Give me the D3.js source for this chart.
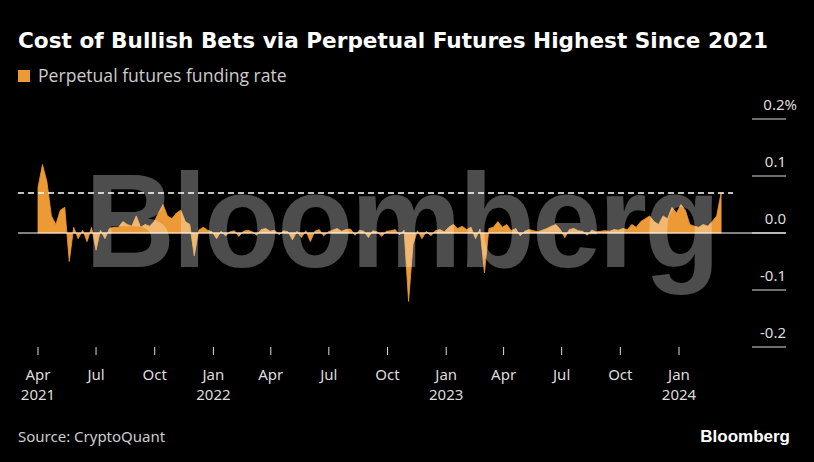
<!DOCTYPE html>
<html><head><meta charset="utf-8">
<script src="https://cdn.jsdelivr.net/npm/d3@7"></script>
<style>body{margin:0;background:#000}</style></head>
<body><svg id="c" width="814" height="462"></svg>
<script>
const startDate = "2021-04-01";
const stepDays = 7;
const values = [
0.08,0.12,0.09,0.03,
0.015,0.04,0.045,-0.05,0.01,
-0.01,0.005,-0.015,0.01,
-0.03,0.005,-0.01,0.008,0.01,
0.01,0.02,0.015,0.012,
0.03,0.01,0.015,0.012,
0.02,0.035,0.05,0.03,0.025,
0.035,0.04,0.02,0.015,
-0.04,0.005,0.01,0.005,0.002,
-0.01,0.003,-0.005,0.002,
0.004,-0.006,0.003,0.005,
0.002,-0.004,0.006,0.008,0.003,
0.005,-0.003,0.004,0.002,
-0.012,0.003,-0.008,0.004,
-0.015,0.003,0.006,-0.005,0.002,
0.005,0.008,0.003,0.006,
0.007,-0.004,0.005,0.003,
-0.008,0.004,0.002,-0.006,0.003,
0.004,0.006,-0.003,0.005,
-0.12,-0.02,0.004,-0.01,
0.003,-0.005,0.004,0.006,0.002,
0.01,0.015,0.008,0.012,
0.006,0.01,-0.01,0.007,
-0.07,0.008,0.01,0.02,0.01,
0.015,0.004,0.008,-0.005,
0.003,0.006,0.004,0.002,0.005,
0.008,0.012,0.015,0.006,
-0.008,0.006,0.008,0.004,
0.003,-0.004,0.005,0.002,0.003,
0.004,0.003,0.006,0.005,
0.008,0.006,0.015,0.01,
0.02,0.025,0.03,0.02,0.015,
0.03,0.025,0.045,0.035,
0.05,0.04,0.015,0.012,0.01,
0.015,0.012,0.02,0.03,
0.07];
const refLevel = 0.07;
const yTicks = [0.2,0.1,0,-0.1,-0.2];
const xTickDates = ["2021-04-01","2021-07-01","2021-10-01","2022-01-01","2022-04-01","2022-07-01","2022-10-01","2023-01-01","2023-04-01","2023-07-01","2023-10-01","2024-01-01"];
const monthLabels = ["Apr","Jul","Oct","Jan","Apr","Jul","Oct","Jan","Apr","Jul","Oct","Jan"];
const yearLabels = {"0":"2021","3":"2022","7":"2023","11":"2024"};

const p = d3.timeParse("%Y-%m-%d");
const t0 = p(startDate);
const data = values.map((v,i)=>({d:d3.timeDay.offset(t0,i*stepDays),v}));
const svg = d3.select("#c");
const x = d3.scaleTime().domain([p("2021-04-01"),p("2024-01-01")]).range([38,679]);
const y = d3.scaleLinear().domain([-0.2,0.2]).range([347,119]);
const orange = "#ec9a35";

svg.append("text").attr("x",18).attr("y",48).attr("fill","#fff").attr("font-family","DejaVu Sans, sans-serif").attr("font-weight","bold").attr("font-size",21.6).text("Cost of Bullish Bets via Perpetual Futures Highest Since 2021");
svg.append("rect").attr("x",18).attr("y",70).attr("width",12).attr("height",12).attr("fill",orange);
svg.append("text").attr("x",38).attr("y",82).attr("fill","#ccc").attr("font-family","Open Sans, sans-serif").attr("font-size",17.6).text("Perpetual futures funding rate");

yTicks.forEach(t=>{
  svg.append("line").attr("x1",752).attr("x2",786).attr("y1",y(t)).attr("y2",y(t)).attr("stroke","#ddd").attr("stroke-width",1);
  svg.append("text").attr("x",t===0.2?797:786).attr("y",y(t)-9).attr("text-anchor","end").attr("fill","#ddd").attr("font-family","Noto Sans, sans-serif").attr("font-size",15).text(t===0.2?"0.2%":d3.format(".1f")(t).replace("−","-"));
});

svg.append("path").datum(data).attr("fill",orange).attr("stroke",orange).attr("stroke-width",0.8)
  .attr("d",d3.area().x(d=>x(d.d)).y0(y(0)).y1(d=>y(d.v)));
svg.append("line").attr("x1",18).attr("x2",786).attr("y1",y(0)).attr("y2",y(0)).attr("stroke","#fff").attr("stroke-width",1.2);
svg.append("line").attr("x1",18).attr("x2",733).attr("y1",y(refLevel)).attr("y2",y(refLevel)).attr("stroke","#fff").attr("stroke-width",1.5).attr("stroke-dasharray","6,4");

svg.append("text").attr("transform","translate(85,267) scale(0.93,1)").attr("fill","#fff").attr("fill-opacity",0.3).attr("font-family","Liberation Sans, Arial").attr("font-weight","bold").attr("font-size",134).attr("letter-spacing",-3).text("Bloomberg");

xTickDates.forEach((s,i)=>{
  const xx = x(p(s));
  svg.append("line").attr("x1",xx).attr("x2",xx).attr("y1",347).attr("y2",355).attr("stroke","#ddd");
  svg.append("text").attr("x",xx).attr("y",380).attr("text-anchor","middle").attr("fill","#ddd").attr("font-family","Noto Sans, sans-serif").attr("font-size",15).text(monthLabels[i]);
  if(yearLabels[i]) svg.append("text").attr("x",xx).attr("y",400).attr("text-anchor","middle").attr("fill","#ddd").attr("font-family","Noto Sans, sans-serif").attr("font-size",15).text(yearLabels[i]);
});

svg.append("text").attr("x",18).attr("y",442).attr("fill","#ccc").attr("font-family","Noto Sans, sans-serif").attr("font-size",15).text("Source: CryptoQuant");
svg.append("text").attr("x",790).attr("y",442).attr("text-anchor","end").attr("fill","#fff").attr("font-family","Liberation Sans, Arial").attr("font-weight","bold").attr("font-size",17).text("Bloomberg");
</script></body></html>
